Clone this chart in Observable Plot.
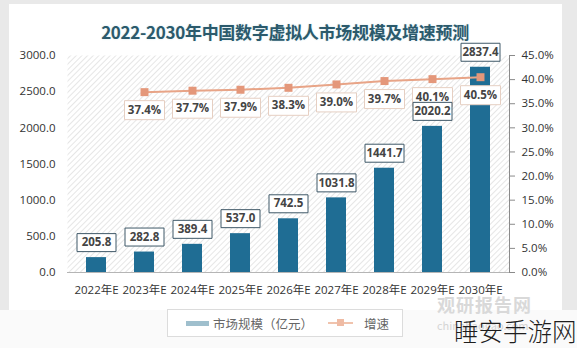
<!DOCTYPE html>
<html>
<head>
<meta charset="utf-8">
<script src="https://cdn.jsdelivr.net/npm/d3@7"></script>
<script src="https://cdn.jsdelivr.net/npm/@observablehq/plot@0.6"></script>
<style>
  html, body { margin: 0; padding: 0; }
  body { width: 577px; height: 348px; position: relative; overflow: hidden; background: #fafafa; font-family: "Noto Sans CJK SC", "Open Sans", sans-serif; }
  #frame { position: absolute; left: 0; top: 0; width: 577px; height: 310px; background: #e9e9e9; }
  #card { position: absolute; left: 9px; top: 4px; width: 553px; height: 306px; background: #ffffff; }
  #title { position: absolute; left: 0; width: 570px; top: 19px; text-align: center; font-size: 17px; font-weight: bold; color: #2b5a6c; text-shadow: 0 0 2px #cfe3ea; letter-spacing: -0.3px; }
  #chart { position: absolute; left: 0; top: 0; }
  #legend { position: absolute; left: 167px; top: 309px; width: 236px; height: 28px; border: 1px solid #dcdcdc; background: #fff; box-sizing: border-box; font-size: 12.5px; color: #666; }
  .sw-bar { position: absolute; left: 18px; top: 11px; width: 23px; height: 5px; background: #9fbfcd; }
  .lab1 { position: absolute; left: 45px; top: 4px; }
  .sw-line { position: absolute; left: 160px; top: 12px; width: 25px; height: 2px; background: #f0c3ad; }
  .sw-mark { position: absolute; left: 169px; top: 9px; width: 7px; height: 7px; background: #efbba4; }
  .lab2 { position: absolute; left: 196px; top: 4px; }
  #wm1 { position: absolute; left: 437px; top: 295px; font-size: 18px; line-height: 18px; font-weight: bold; color: #d9d9d9; letter-spacing: 1px; }
  #wm2 { position: absolute; left: 437px; top: 317px; font-size: 11px; color: #d5d5d5; }
  #wm3 { position: absolute; left: 454px; top: 313px; font-size: 24.5px; color: #1e1e1e; font-weight: 300; white-space: nowrap; }
</style>
</head>
<body>
<div id="frame"></div>
<div id="card"></div>
<div id="chart"></div>
<div id="title">2022-2030年中国数字虚拟人市场规模及增速预测</div>
<div id="wm1">观研报告网</div>
<div id="wm2">chinabaogao.com</div>
<div id="legend">
  <div class="sw-bar"></div><div class="lab1">市场规模（亿元）</div>
  <div class="sw-line"></div><div class="sw-mark"></div><div class="lab2">增速</div>
</div>
<div id="wm3">睡安手游网</div>
<script>
// ---- data ----
const years = ["2022年E", "2023年E", "2024年E", "2025年E", "2026年E", "2027年E", "2028年E", "2029年E", "2030年E"];
const market = [205.8, 282.8, 389.4, 537.0, 742.5, 1031.8, 1441.7, 2020.2, 2837.4];
const growth = [null, 37.4, 37.7, 37.9, 38.3, 39.0, 39.7, 40.1, 40.5];
const leftTicks = [0, 500, 1000, 1500, 2000, 2500, 3000];
const rightTicks = [0, 5, 10, 15, 20, 25, 30, 35, 40, 45];
const yMax = 3000;
const pMax = 45;

const rows = years.map((y, i) => ({ year: y, market: market[i], growth: growth[i] }));
const gRows = rows.filter(d => d.growth != null);
const toY = p => p * yMax / pMax;

function boxSymbol(w, h) {
  return { draw(ctx) { ctx.rect(-w / 2, -h / 2, w, h); } };
}

const font = "'Open Sans', 'Noto Sans CJK SC', sans-serif";

const chart = Plot.plot({
  width: 577,
  height: 307,
  marginLeft: 67,
  marginRight: 68,
  marginTop: 55,
  marginBottom: 35,
  style: { fontFamily: font, fontSize: "11.5px", color: "#333", background: "transparent" },
  x: { domain: years, paddingInner: 0.59, paddingOuter: 0.306 },
  y: { domain: [0, yMax] },
  marks: [
    Plot.frame({ fill: "url(#hatch)", stroke: null }),
    Plot.frame({ anchor: "right", stroke: "#8a8a8a" }),
    Plot.barY(rows, { x: "year", y: "market", fill: "#1f6d94" }),
    Plot.ruleY([0], { stroke: "#b5b5b5", strokeWidth: 1.2 }),
    Plot.axisY(leftTicks, { anchor: "left", tickSize: 0, tickPadding: 12, tickFormat: d => d.toFixed(1), fontSize: 11.5, label: null }),
    Plot.axisY(rightTicks.map(toY), { anchor: "right", tickSize: 5, tickPadding: 7, stroke: "#8a8a8a", tickFormat: v => (v * pMax / yMax).toFixed(1) + "%", fontSize: 11.5, label: null }),
    Plot.axisX({ tickSize: 0, tickPadding: 13, fontSize: 11.5, label: null }),
    Plot.line(gRows, { x: "year", y: d => toY(d.growth), stroke: "#e8a487", strokeWidth: 2 }),
    Plot.dot(gRows, { x: "year", y: d => toY(d.growth), symbol: "square", r: 4.5, fill: "#e4977a", stroke: null }),
    Plot.dot(gRows, { x: "year", y: d => toY(d.growth), symbol: boxSymbol(40, 19), r: 1, fill: "white", stroke: "#e6cfc2", strokeWidth: 1, dy: 18 }),
    Plot.text(gRows, { x: "year", y: d => toY(d.growth), text: d => d.growth.toFixed(1) + "%", dy: 18, fontSize: 11.5, fontWeight: "bold", fill: "#444" }),
    Plot.dot(rows, { x: "year", y: "market", symbol: boxSymbol(39, 18), r: 1, fill: "white", stroke: "#3f5868", strokeWidth: 1, dy: -15 }),
    Plot.text(rows, { x: "year", y: "market", text: d => d.market.toFixed(1), dy: -15, fontSize: 11.5, fontWeight: "bold", fill: "#444" })
  ]
});

const defs = d3.select(chart).insert("defs", ":first-child");
const pat = defs.append("pattern")
  .attr("id", "hatch")
  .attr("patternUnits", "userSpaceOnUse")
  .attr("width", 4).attr("height", 4)
  .attr("patternTransform", "rotate(45)");
pat.append("rect").attr("width", 4).attr("height", 4).attr("fill", "#ffffff");
pat.append("line").attr("x1", 0).attr("y1", 0).attr("x2", 0).attr("y2", 4)
  .attr("stroke", "#d6d6d6").attr("stroke-width", 1.2);

document.getElementById("chart").appendChild(chart);
</script>
</body>
</html>
